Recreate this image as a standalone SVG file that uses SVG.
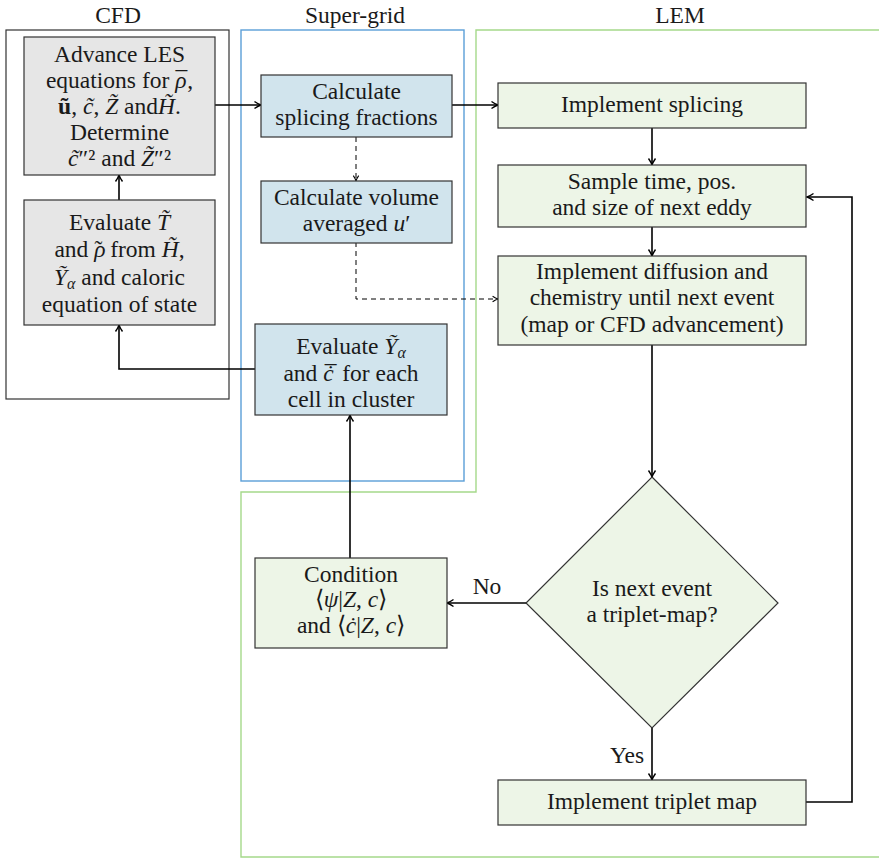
<svg xmlns="http://www.w3.org/2000/svg" width="879" height="858" viewBox="0 0 879 858">
<style>
text{font-family:'Liberation Serif',serif;font-size:23.5px;fill:#1a1a1a;text-anchor:middle}
.i{font-style:italic}
.b{font-weight:bold}
.gray{fill:#e6e6e6;stroke:#333;stroke-width:1.2}
.blue{fill:#d1e4ed;stroke:#333;stroke-width:1.2}
.green{fill:#edf5e7;stroke:#333;stroke-width:1.2}
.con{fill:none;stroke:#000;stroke-width:1.6;marker-end:url(#ah)}
.dash{fill:none;stroke:#000;stroke-width:1;stroke-dasharray:5,4;marker-end:url(#ahs)}
.sub{font-size:16px}
</style>
<defs>
<marker id="ah" viewBox="0 0 10 10" refX="9" refY="5" markerWidth="10" markerHeight="10" orient="auto" markerUnits="userSpaceOnUse">
<path d="M2.5,1.5 Q6.5,4.3 9,5 Q6.5,5.7 2.5,8.5" fill="none" stroke="#000" stroke-width="1.4"/>
</marker>
<marker id="ahs" viewBox="0 0 10 10" refX="9" refY="5" markerWidth="9" markerHeight="9" orient="auto" markerUnits="userSpaceOnUse">
<path d="M3,2 Q6.5,4.4 9,5 Q6.5,5.6 3,8" fill="none" stroke="#000" stroke-width="1.2"/>
</marker>
</defs>

<g id="frames">
<rect id="cfd-frame" x="6" y="30" width="223" height="369" fill="none" stroke="#333" stroke-width="1.2"/>
<rect id="supergrid-frame" x="241" y="30" width="223" height="451" fill="none" stroke="#5b9fd8" stroke-width="1.4"/>
<polyline id="lem-frame" points="881,30 476,30 476,492 241,492 241,857 881,857" fill="none" stroke="#a5d98a" stroke-width="1.4"/>
<text x="118" y="23">CFD</text>
<text x="355" y="23">Super-grid</text>
<text x="680" y="23">LEM</text>
</g>

<g id="connectors">
<path class="con" d="M215,105 H261"/>
<path class="con" d="M452,105 H498"/>
<path class="dash" d="M356,137 V181"/>
<path class="dash" d="M356,242 V299 H498"/>
<path class="con" d="M652,128 V165"/>
<path class="con" d="M652,227 V256"/>
<path class="con" d="M652,345 V477"/>
<path class="con" d="M526,603 H447"/>
<path class="con" d="M652,728 V780"/>
<path class="con" d="M806,802 H852 V197 H807"/>
<path class="con" d="M350,558 V415"/>
<path class="con" d="M255,369 H119 V325"/>
<path class="con" d="M119,200 V175"/>
<text x="487" y="594">No</text>
<text x="627" y="763">Yes</text>
</g>

<g id="advance-les">
<rect class="gray" x="24" y="37" width="191" height="138"/>
<text x="119.5" y="62">Advance LES</text>
<text x="119.5" y="88">equations for <tspan class="i">ρ</tspan><tspan dx="-11">¯</tspan>,</text>
<text x="119.5" y="114"><tspan class="b">ũ</tspan>, <tspan class="i">c̃</tspan>, <tspan class="i">Z̃</tspan> and<tspan class="i">H̃</tspan>.</text>
<text x="119.5" y="140">Determine</text>
<text x="119.5" y="166"><tspan class="i">c̃</tspan>″² and <tspan class="i">Z̃</tspan>″²</text>
</g>

<g id="evaluate-t">
<rect class="gray" x="24" y="200" width="191" height="125"/>
<text x="119.5" y="230">Evaluate <tspan class="i">T̃</tspan></text>
<text x="119.5" y="257">and <tspan class="i">ρ</tspan><tspan dx="-11">˜</tspan><tspan dx="2"> from </tspan><tspan class="i">H̃</tspan>,</text>
<text x="119.5" y="285"><tspan class="i">Ỹ</tspan><tspan class="i sub" dy="4">α</tspan><tspan dy="-4"> and caloric</tspan></text>
<text x="119.5" y="312">equation of state</text>
</g>

<g id="splicing-fractions">
<rect class="blue" x="261" y="75" width="191" height="62"/>
<text x="356.5" y="99">Calculate</text>
<text x="356.5" y="125">splicing fractions</text>
</g>

<g id="volume-averaged">
<rect class="blue" x="261" y="181" width="191" height="62"/>
<text x="356.5" y="205">Calculate volume</text>
<text x="356.5" y="231">averaged <tspan class="i">u</tspan>′</text>
</g>

<g id="evaluate-y">
<rect class="blue" x="255" y="324" width="192" height="91"/>
<text x="351" y="354">Evaluate <tspan class="i">Ỹ</tspan><tspan class="i sub" dy="4">α</tspan></text>
<text x="351" y="381">and <tspan class="i">ċ</tspan><tspan dx="-9" dy="1">¯</tspan><tspan dy="-1"> for each</tspan></text>
<text x="351" y="407">cell in cluster</text>
</g>

<g id="implement-splicing">
<rect class="green" x="498" y="83" width="308" height="45"/>
<text x="652" y="112">Implement splicing</text>
</g>

<g id="sample-eddy">
<rect class="green" x="498" y="165" width="308" height="62"/>
<text x="652" y="189">Sample time, pos.</text>
<text x="652" y="215">and size of next eddy</text>
</g>

<g id="diffusion">
<rect class="green" x="498" y="256" width="308" height="89"/>
<text x="652" y="279">Implement diffusion and</text>
<text x="652" y="305">chemistry until next event</text>
<text x="652" y="332">(map or CFD advancement)</text>
</g>

<g id="decision">
<polygon class="green" points="652,477 778,603 652,728 526,603"/>
<text x="652" y="596">Is next event</text>
<text x="652" y="622">a triplet-map?</text>
</g>

<g id="triplet-map">
<rect class="green" x="498" y="780" width="308" height="45"/>
<text x="652" y="809">Implement triplet map</text>
</g>

<g id="condition">
<rect class="green" x="255" y="558" width="192" height="90"/>
<text x="351" y="582">Condition</text>
<text x="351" y="607">⟨<tspan class="i">ψ</tspan>|<tspan class="i">Z</tspan>, <tspan class="i">c</tspan>⟩</text>
<text x="351" y="633">and ⟨<tspan class="i">ċ</tspan>|<tspan class="i">Z</tspan>, <tspan class="i">c</tspan>⟩</text>
</g>
</svg>
